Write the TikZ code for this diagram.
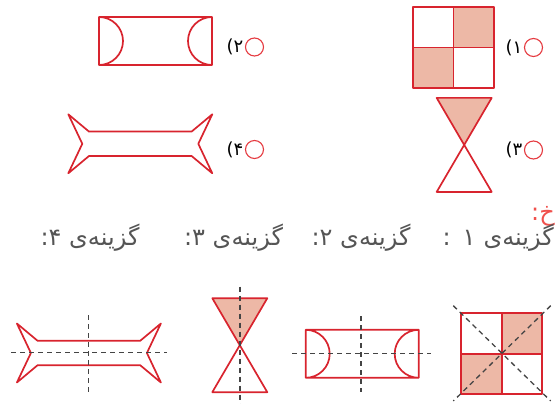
\documentclass[tikz,border=0pt]{standalone}
\usepackage{fontspec}
\newfontfamily\farsi[Script=Arabic]{DejaVu Sans}
\TeXXeTstate=1
\usetikzlibrary{positioning}
\definecolor{shapered}{HTML}{D8242E}
\definecolor{fillpink}{HTML}{EDB8A6}
\definecolor{optred}{HTML}{E53A40}
\definecolor{dashgray}{HTML}{444444}
\definecolor{textgray}{HTML}{555555}
\definecolor{ansred}{HTML}{F0504C}
\tikzset{
  fig/.style={draw=shapered, line width=1.7pt, line join=round},
  shd/.style={fill=fillpink},
  symm/.style={draw=dashgray, line width=1.3pt, dash pattern=on 5pt off 4pt},
  opt/.style={circle, draw=optred, line width=1.1pt, minimum size=18pt, inner sep=0pt},
  num/.style={font=\farsi\fontsize{18}{18}\selectfont, inner sep=0pt},
  capt/.style={font=\farsi\fontsize{24}{24}\selectfont, text=textgray, inner sep=0pt},
  checker/.pic={
    \fill[shd] (0,-40.5) rectangle (40.5,0) (-40.5,0) rectangle (0,40.5);
    \draw[fig] (-40.5,-40.5) rectangle (40.5,40.5)
      (0,-40.5) -- (0,40.5) (-40.5,0) -- (40.5,0);
  },
  bowtie/.pic={
    \fill[shd] (-27.5,-47) -- (27.5,-47) -- (0,0) -- cycle;
    \draw[fig] (-27.5,-47) -- (27.5,-47) -- (-27.5,47) -- (27.5,47) -- cycle;
  },
  lens/.pic={
    \draw[fig] (-56.5,-24) rectangle (56.5,24)
      (-56.5,-24) arc[start angle=90, end angle=-90, radius=24pt]
      (56.5,-24) arc[start angle=90, end angle=270, radius=24pt];
  },
  spool/.pic={
    \draw[fig] (-72,-29.5) -- (-51.3,-12.2) -- (51.3,-12.2) -- (72,-29.5)
      -- (58,0) -- (72,29.5) -- (51.3,12.2) -- (-51.3,12.2) -- (-72,29.5)
      -- (-58,0) -- cycle;
  }
}

\begin{document}
\begin{tikzpicture}[x=1pt, y=-1pt]
  \useasboundingbox (0,0) rectangle (555,404);

  % question: four choices
  \pic at (453.5,47.5) {checker};
  \pic at (155.5,41) {lens};
  \pic at (464.2,144.9) {bowtie};
  \pic at (140.3,143.8) {spool};
  \node[opt] (c1) at (533.5,47.5) {};
  \node[opt] (c2) at (254.5,47) {};
  \node[opt] (c3) at (533.5,150) {};
  \node[opt] (c4) at (254.5,149.5) {};
  \node[num, left=1.5pt of c1] (n1) {۱)};
  \node[num, left=1.5pt of c2] (n2) {۲)};
  \node[num, left=1.5pt of c3] (n3) {۳)};
  \node[num, left=1.5pt of c4] (n4) {۴)};

  % answer
  \node[capt, text=ansred, anchor=base east] (ans) at (555,220) {\beginR خ:\endR};
  \node[capt, anchor=base east] (g1) at (554,245)
    {\beginR گزینه‌ی\hspace{8pt}۱\hspace{12pt}:\endR};
  \node[capt, anchor=base] (g2) at (361,245) {\beginR گزینه‌ی ۲:\endR};
  \node[capt, anchor=base] (g3) at (233.5,245) {\beginR گزینه‌ی ۳:\endR};
  \node[capt, anchor=base] (g4) at (90,245) {\beginR گزینه‌ی ۴:\endR};

  \pic at (501.7,353.8) {checker};
  \pic at (362.2,353.8) {lens};
  \pic at (239.8,345.2) {bowtie};
  \pic at (88.9,353) {spool};

  % symmetry axes
  \draw[symm] (453.3,305.7) -- (550.7,401) (550.7,305.7) -- (453.3,401);
  \draw[symm] (292.3,353.7) -- (430.7,353.7) (361,316) -- (361,392.3);
  \draw[symm] (240,286.7) -- (240,404);
  \draw[symm] (11,352.7) -- (166.7,352.7) (88.3,315) -- (88.3,391.7);
\end{tikzpicture}
\end{document}
